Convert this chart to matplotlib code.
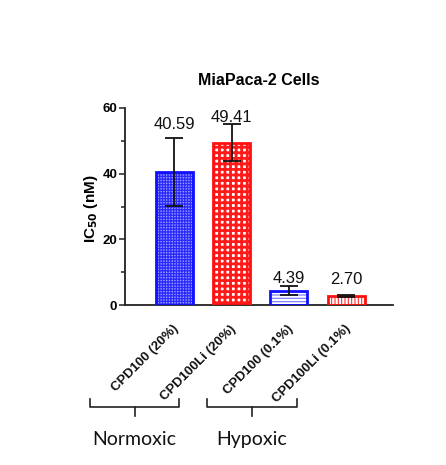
import matplotlib
matplotlib.use("Agg")
import matplotlib.pyplot as plt
from matplotlib.transforms import ScaledTranslation

categories = ["CPD100 (20%)", "CPD100Li (20%)", "CPD100 (0.1%)", "CPD100Li (0.1%)"]
means = [40.59, 49.41, 4.39, 2.70]
errors = [10.3, 5.6, 1.3, 0.4]
value_labels = ["40.59", "49.41", "4.39", "2.70"]
label_y = [53.5, 55.6, 6.6, 6.4]
groups = ["Normoxic", "Hypoxic"]

edge_colors = ["#1010ff", "#ff1010", "#1010ff", "#ff1010"]
face_colors = ["#9a9aff", "white", "white", "white"]
hatch_colors = ["#2a2aff", "#ff1a1a", "#8080ff", "#ff3030"]
hatches = ["++++++", "+++", "-----", "|||||"]
hatch_lw = [0.9, 2.0, 0.9, 0.8]

W, H = 446, 465
fig = plt.figure(figsize=(W / 100, H / 100), dpi=100)
ax = fig.add_axes([125 / W, 1 - 305 / H, 268 / W, 197 / H])

x = list(range(len(categories)))
for i in x:
    plt.rcParams["hatch.linewidth"] = hatch_lw[i]
    b = ax.bar(x[i], means[i], width=0.65, facecolor=face_colors[i],
               edgecolor=hatch_colors[i], hatch=hatches[i], linewidth=0, zorder=2)
    for p in b:
        if hasattr(p, "set_hatch_linewidth"):
            p.set_hatch_linewidth(hatch_lw[i])
    ax.bar(x[i], means[i], width=0.65, facecolor="none",
           edgecolor=edge_colors[i], linewidth=2.0, zorder=3)

ax.errorbar(x, means, yerr=errors, fmt="none", ecolor="#111111",
            elinewidth=1.3, capsize=6.8, capthick=1.3, zorder=4)

for i in x:
    ax.text(x[i], label_y[i], value_labels[i], ha="center", va="baseline",
            fontsize=12, family="Liberation Sans", color="#111111", zorder=5)

ax.set_xlim(-0.865, 3.82)
ax.set_ylim(0, 60)
ax.set_yticks([0, 20, 40, 60])
ax.set_yticks([10, 30, 50], minor=True)
ax.set_xticks(x)
ax.set_xticklabels([])
ax.tick_params(axis="x", length=0)
off = ScaledTranslation(-2 / 100, -18 / 100, fig.dpi_scale_trans)
for i in x:
    ax.text(x[i], 0, categories[i], transform=ax.get_xaxis_transform() + off,
            rotation=45, ha="right", va="top", rotation_mode="anchor",
            fontsize=9.5, fontweight="bold", family="Liberation Sans",
            color="#111111")

ax.tick_params(axis="y", which="major", length=4, width=1.1, pad=1.5,
               labelsize=9.5, color="#222222")
ax.tick_params(axis="y", which="minor", length=3, width=1.1, color="#222222")
for lab in ax.get_yticklabels():
    lab.set_fontweight("bold")
    lab.set_family("Liberation Sans")
for s in ["top", "right"]:
    ax.spines[s].set_visible(False)
for s in ["left", "bottom"]:
    ax.spines[s].set_linewidth(1.3)
    ax.spines[s].set_color("#222222")

ax.set_ylabel("IC$_{\\mathbf{50}}$ (nM)", fontsize=11, fontweight="bold",
              family="Liberation Sans")
ax.yaxis.set_label_coords(-0.095, 0.487)
ax.set_title("MiaPaca-2 Cells", fontsize=11.5, fontweight="bold",
             family="Liberation Sans", pad=16.5)

# overlay for group braces
ov = fig.add_axes([0, 0, 1, 1], facecolor="none")
ov.set_xlim(0, W)
ov.set_ylim(H, 0)
ov.axis("off")
braces = [(90, 179), (207, 297)]
for (x0, x1), g in zip(braces, groups):
    xc = (x0 + x1) / 2
    ov.plot([x0, x0, x1, x1], [399, 407, 407, 399], color="#222222", lw=1.2)
    ov.plot([xc, xc], [407, 416], color="#222222", lw=1.2)
    ov.text(xc, 445, g, ha="center", va="baseline", fontsize=14,
            family="Lato", color="#111111")

fig.savefig("out.png", dpi=100)
